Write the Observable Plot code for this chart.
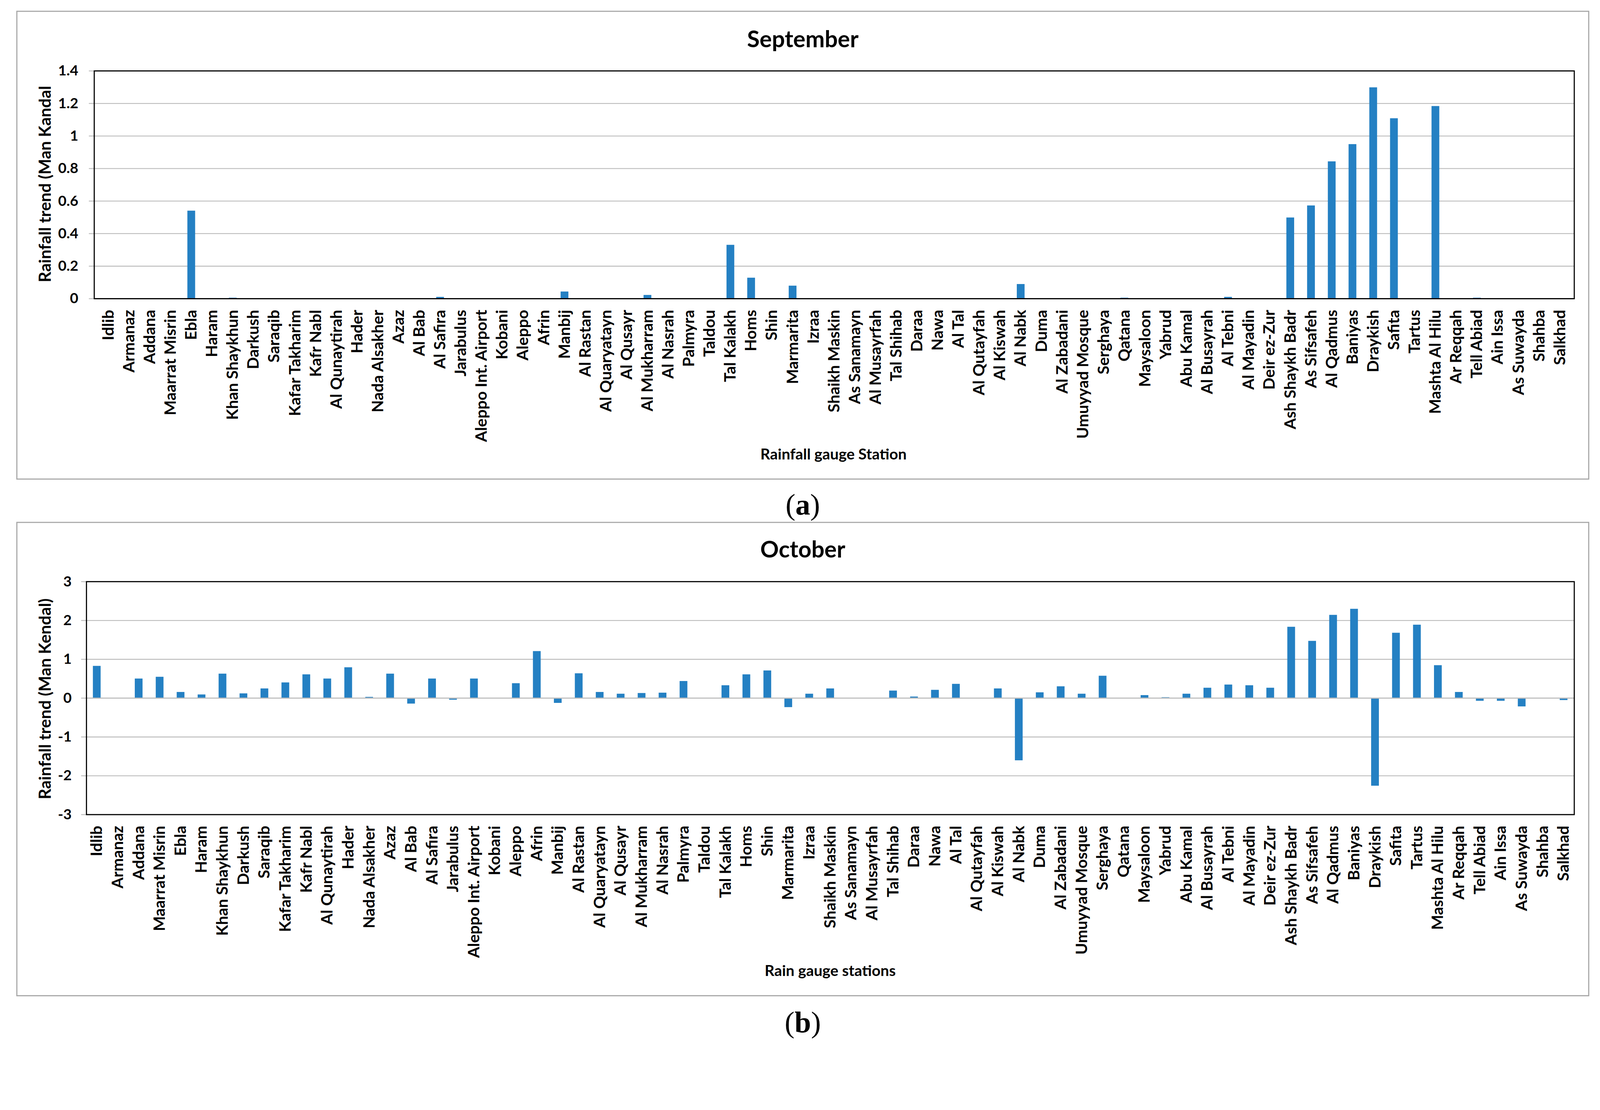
<!DOCTYPE html>
<html>
<head>
<meta charset="utf-8">
<script src="https://cdn.jsdelivr.net/npm/d3@7"></script>
<script src="https://cdn.jsdelivr.net/npm/@observablehq/plot@0.6"></script>
<style>
  html, body { margin: 0; padding: 0; background: #fff; overflow: hidden; }
  #wrap { position: relative; overflow: hidden; background: #fff; }
  #page { position: absolute; left: 0; top: 0; width: 4321px; height: 2841px; background: #fff; overflow: hidden; transform-origin: 0 0; }
  .panel { position: absolute; box-sizing: border-box; border: 3px solid #a6a6a6; }
  .txt { position: absolute; transform: translate(-50%, -50%); white-space: nowrap; font-family: Lato, "Open Sans", sans-serif; font-weight: bold; color: #000; }
  .ytitle { position: absolute; transform: translate(-50%, -50%) rotate(-90deg); white-space: nowrap; font-family: Lato, "Open Sans", sans-serif; font-weight: bold; color: #000; font-size: 45px; }
  .cap { position: absolute; transform: translate(-50%, -50%); font-family: "Liberation Serif", "DejaVu Serif", serif; font-size: 80px; color: #000; line-height: 1; }
  .chart { position: absolute; left: 0; }
</style>
</head>
<body>
<div id="wrap">
<div id="page">
  <div class="panel" style="left:44px; top:29px; width:4248px; height:1266px;"></div>
  <div class="panel" style="left:44px; top:1409px; width:4248px; height:1281px;"></div>
  <div class="txt" style="left:2168px; top:104px; font-size:62px;">September</div>
  <div class="txt" style="left:2168px; top:1481px; font-size:62px;">October</div>
  <div class="txt" style="left:2251px; top:1225px; font-size:41px;">Rainfall gauge Station</div>
  <div class="txt" style="left:2242px; top:2620px; font-size:41px;">Rain gauge stations</div>
  <div class="ytitle" style="left:120px; top:497px;">Rainfall trend (Man Kandal</div>
  <div class="ytitle" style="left:120px; top:1887px;">Rainfall trend (Man Kendal)</div>
  <div class="cap" style="left:2168px; top:1362px;">(<b>a</b>)</div>
  <div class="cap" style="left:2168px; top:2760px;">(<b>b</b>)</div>
  <div id="c1" class="chart" style="top:0px;"></div>
  <div id="c2" class="chart" style="top:1400px;"></div>
</div>
</div>
<script>
const stations = ["Idlib","Armanaz","Addana","Maarrat Misrin","Ebla","Haram","Khan Shaykhun","Darkush","Saraqib","Kafar Takharim","Kafr Nabl","Al Qunaytirah","Hader","Nada Alsakher","Azaz","Al Bab","Al Safira","Jarabulus","Aleppo Int. Airport","Kobani","Aleppo","Afrin","Manbij","Al Rastan","Al Quaryatayn","Al Qusayr","Al Mukharram","Al Nasrah","Palmyra","Taldou","Tal Kalakh","Homs","Shin","Marmarita","Izraa","Shaikh Maskin","As Sanamayn","Al Musayrfah","Tal Shihab","Daraa","Nawa","Al Tal","Al Qutayfah","Al Kiswah","Al Nabk","Duma","Al Zabadani","Umuyyad Mosque","Serghaya","Qatana","Maysaloon","Yabrud","Abu Kamal","Al Busayrah","Al Tebni","Al Mayadin","Deir ez-Zur","Ash Shaykh Badr","As Sifsafeh","Al Qadmus","Baniyas","Draykish","Safita","Tartus","Mashta Al Hilu","Ar Reqqah","Tell Abiad","Ain Issa","As Suwayda","Shahba","Salkhad"];

const september = [0,0,0,0,0.54,0,0.005,0,0,0,0,0,0,0,0,0,0.01,0,0,0,0,0,0.043,0,0,0,0.022,0,0,0,0.33,0.128,0,0.079,0,0,0,0,0,0,0,0,0,0,0.089,0,0,0,0,0.005,0,0,0,0,0.01,0,0,0.498,0.572,0.843,0.949,1.298,1.108,0,1.183,0,0.005,0,0,0,0];

const october = [0.826,0,0.50,0.545,0.154,0.09,0.626,0.118,0.245,0.40,0.608,0.50,0.79,0.027,0.626,-0.145,0.50,-0.045,0.50,0,0.38,1.207,-0.127,0.635,0.154,0.109,0.127,0.136,0.436,0,0.327,0.608,0.708,-0.236,0.109,0.245,0,0,0.19,0.036,0.209,0.363,0,0.245,-1.606,0.145,0.30,0.109,0.572,0,0.073,0.018,0.109,0.263,0.345,0.327,0.263,1.833,1.47,2.14,2.296,-2.26,1.679,1.887,0.844,0.154,-0.073,-0.073,-0.218,0,-0.054];

const septTicks = [0,0.2,0.4,0.6,0.8,1,1.2,1.4];
const octTicks = [-3,-2,-1,0,1,2,3];

const barColor = "#2480c3";
const gridColor = "#bdbdbd";

function chart(values, yDomain, yTicks, opts) {
  const data = stations.map((s, i) => ({station: s, value: values[i]}));
  return Plot.plot({
    width: 4321,
    height: 1290,
    marginLeft: opts.marginLeft,
    marginRight: 70,
    marginTop: opts.marginTop,
    marginBottom: opts.marginBottom,
    style: {fontFamily: "Lato, 'Open Sans', sans-serif", fontSize: "40px", fontWeight: "bold", color: "#000", background: "transparent", overflow: "visible"},
    x: {domain: stations, paddingInner: 0.63, paddingOuter: 0.315, label: null},
    y: {domain: yDomain, label: null},
    marks: [
      Plot.gridY(yTicks, {stroke: gridColor, strokeOpacity: 1, strokeWidth: 2.5}),
      Plot.barY(data, {x: "station", y: "value", fill: barColor}),
      Plot.ruleY([0], {stroke: opts.zeroColor, strokeWidth: 3}),
      Plot.axisY(yTicks, {tickSize: 14, tickPadding: opts.tickPadding, stroke: gridColor, strokeWidth: 2.5, tickFormat: d => String(d), fontSize: 39, label: null}),
      Plot.axisX({tickSize: 0, tickPadding: 30, tickRotate: -90, fontSize: 43, label: null}),
      Plot.frame({stroke: "#000", strokeWidth: 3})
    ]
  });
}

document.getElementById("c1").appendChild(chart(september, [0, 1.4], septTicks, {marginLeft: 254, marginTop: 191, marginBottom: 484, tickPadding: 29, zeroColor: "#000"}));
document.getElementById("c2").appendChild(chart(october, [-3, 3], octTicks, {marginLeft: 233, marginTop: 170, marginBottom: 491, tickPadding: 26, zeroColor: gridColor}));

function fit() {
  const w = window.innerWidth, h = window.innerHeight;
  let s = Math.min(w / 4321, h / 2841);
  if (s > 0.999) s = 1;
  const wrap = document.getElementById("wrap");
  wrap.style.width = Math.floor(4321 * s) + "px";
  wrap.style.height = Math.floor(2841 * s) + "px";
  document.getElementById("page").style.transform = s < 1 ? `scale(${s})` : "";
}
fit();
window.addEventListener("resize", fit);
</script>
</body>
</html>
